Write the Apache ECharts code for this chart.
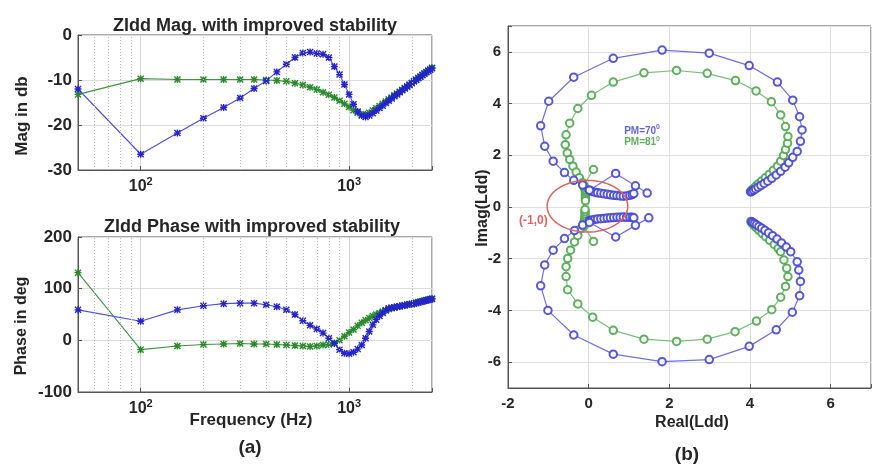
<!DOCTYPE html>
<html><head><meta charset="utf-8">
<script src="https://cdn.jsdelivr.net/npm/echarts@6/dist/echarts.min.js"></script>
<style>html,body{margin:0;padding:0;background:#fff}#c{width:874px;height:470px}</style>
</head><body><div id="c"></div><script>
// ---------- DATA ----------
const freq = [50,100,150,200,250,300,350,400,450,500,550,600,650,700,750,800,850,900,950,1000,
  1050,1100,1150,1200,1250,1300,1350,1400,1450,1500,1550,1600,1650,1700,1750,1800,1850,1900,1950,2000,
  2050,2100,2150,2200,2250,2300,2350,2400,2450,2500];
const magBlue = [-12.0,-26.5,-21.8,-18.5,-16.1,-14.0,-11.9,-10.2,-8.2,-6.5,-5.0,-4.0,-3.8,-4.1,-4.3,-5.0,-7.0,-8.8,-11.0,-13.2,
  -15.4,-17.0,-17.9,-18.2,-17.9,-17.4,-16.8,-16.2,-15.7,-15.1,-14.6,-14.1,-13.6,-13.2,-12.7,-12.3,-11.9,-11.5,-11.1,-10.7,
  -10.3,-10.0,-9.6,-9.3,-8.9,-8.6,-8.3,-8.0,-7.7,-7.4];
const magGreen = [-13.2,-9.7,-9.9,-9.9,-9.9,-9.9,-9.9,-10.0,-10.1,-10.3,-10.7,-11.1,-11.6,-12.1,-12.7,-13.3,-13.9,-14.6,-15.3,-16.0,
  -16.7,-17.3,-17.7,-17.6,-17.3,-16.8,-16.3,-15.8,-15.3,-14.8,-14.3,-13.9,-13.4,-13.0,-12.6,-12.2,-11.8,-11.4,-11.0,-10.6,
  -10.2,-9.9,-9.5,-9.2,-8.9,-8.5,-8.2,-7.9,-7.6,-7.3];
const phBlue = [59,37,59,67,71,72,72,69,65,59,50,38,29,22,14,4,-6,-18,-25,-26,
  -23,-17,-9,4,17,30,40,47,53,58,62,63,64,65,66,67,68,69,70,70,
  71,72,73,74,75,76,77,78,79,80];
const phGreen = [131,-18,-11,-8,-7,-6,-7,-7,-8,-9,-10,-11,-12,-11,-9,-8,-5,0,8,15,
  21,28,34,39,43,47,50,53,56,58,60,62,63,65,66,67,68,69,70,71,
  72,73,74,75,76,77,78,79,80,81];
const minorFreqs = [60,70,80,90,200,300,400,500,600,700,800,900,2000];
const magTicks = [-30,-20,-10,0];
const phaseTicks = [-100,0,100,200];
const reTicks = [-2,0,2,4,6];
const imTicks = [-6,-4,-2,0,2,4,6];

// Nyquist (Real, Imag)
const nyqBlueUpper = [[4.02,0.58],[4.05,0.61],[4.09,0.65],[4.14,0.70],[4.20,0.76],[4.27,0.83],[4.35,0.91],[4.44,1.00],[4.54,1.11],[4.65,1.24],[4.76,1.38],[4.87,1.54],[4.96,1.71],[5.06,1.92],[5.17,2.15],[5.25,2.54],[5.29,2.98],[5.23,3.49],[5.06,4.13],[4.68,4.83],[3.98,5.47],[2.99,5.95],[1.82,6.07],[0.61,5.75],[-0.37,5.02],[-0.99,4.09],[-1.19,3.14],[-1.09,2.35],[-0.88,1.77],[-0.60,1.33],[-0.37,1.03],[-0.15,0.85],[0.02,0.65],[0.08,0.60],[0.15,0.57],[0.22,0.55],[0.30,0.53],[0.38,0.51],[0.46,0.49],[0.54,0.47],[0.62,0.45],[0.70,0.44],[0.78,0.43],[0.86,0.42],[0.94,0.43],[1.02,0.45],[1.08,0.48],[1.12,0.52]];
const nyqBlueUpperSpur = [[0.02,0.65],[0.67,1.30],[1.16,0.82],[1.45,0.54]];
const nyqBlueLower = [[4.04,-0.57],[4.07,-0.60],[4.11,-0.64],[4.16,-0.69],[4.22,-0.75],[4.29,-0.82],[4.37,-0.90],[4.46,-1.00],[4.56,-1.11],[4.67,-1.24],[4.78,-1.39],[4.90,-1.55],[5.01,-1.73],[5.17,-2.12],[5.21,-2.44],[5.25,-2.88],[5.23,-3.43],[5.05,-4.07],[4.65,-4.75],[3.98,-5.39],[2.99,-5.90],[1.82,-5.98],[0.61,-5.69],[-0.37,-4.95],[-1.01,-4.00],[-1.19,-3.05],[-1.09,-2.24],[-0.88,-1.67],[-0.60,-1.22],[-0.35,-0.91],[-0.15,-0.70],[0.02,-0.52],[0.08,-0.50],[0.15,-0.48],[0.22,-0.46],[0.30,-0.45],[0.38,-0.44],[0.46,-0.43],[0.54,-0.42],[0.62,-0.41],[0.70,-0.40],[0.78,-0.40],[0.86,-0.39],[0.94,-0.40],[1.02,-0.40],[1.08,-0.40],[1.12,-0.42]];
const nyqBlueLowerSpur = [[0.02,-0.60],[0.67,-1.16],[1.16,-0.71],[1.49,-0.42]];
const nyqGreenUpper = [[4.01,0.60],[4.04,0.65],[4.08,0.71],[4.14,0.80],[4.21,0.90],[4.29,1.01],[4.38,1.13],[4.48,1.27],[4.58,1.42],[4.68,1.58],[4.76,1.77],[4.83,1.99],[4.88,2.22],[4.93,2.47],[4.94,2.73],[4.88,3.11],[4.76,3.56],[4.53,4.07],[4.15,4.49],[3.64,4.89],[2.94,5.17],[2.18,5.28],[1.37,5.19],[0.61,4.83],[0.07,4.32],[-0.27,3.81],[-0.47,3.24],[-0.56,2.79],[-0.58,2.41],[-0.53,2.09],[-0.47,1.84],[-0.39,1.58],[-0.31,1.35],[-0.23,1.13],[-0.15,0.94],[-0.11,0.78],[-0.09,0.68],[-0.08,0.60],[-0.08,0.52],[-0.08,0.45],[-0.08,0.38],[-0.08,0.31],[-0.08,0.24]];
const nyqGreenUpperSpur = [[-0.12,0.85],[0.12,1.45]];
const nyqGreenLower = [[4.02,-0.56],[4.05,-0.62],[4.09,-0.70],[4.15,-0.79],[4.22,-0.90],[4.30,-1.02],[4.39,-1.15],[4.49,-1.29],[4.60,-1.45],[4.70,-1.60],[4.76,-1.73],[4.84,-2.05],[4.91,-2.37],[4.94,-2.69],[4.88,-3.07],[4.76,-3.49],[4.54,-3.97],[4.16,-4.41],[3.63,-4.82],[2.94,-5.11],[2.18,-5.20],[1.37,-5.11],[0.61,-4.77],[0.10,-4.26],[-0.27,-3.75],[-0.52,-3.20],[-0.56,-2.69],[-0.56,-2.31],[-0.52,-1.99],[-0.45,-1.67],[-0.35,-1.35],[-0.27,-1.10],[-0.19,-0.84],[-0.12,-0.59],[-0.10,-0.50],[-0.09,-0.42],[-0.09,-0.34],[-0.09,-0.26],[-0.09,-0.18],[-0.09,-0.10]];
const nyqGreenLowerSpur = [[-0.12,-0.75],[0.12,-1.33]];
const unitCircle = [[-0.03, 0.03, 1.0]]; // centre re, centre im, radius
const pmLabels = [{pos:[0.88,2.94], text:'PM=70', color:'#3a3ad8'}, {pos:[0.88,2.49], text:'PM=81', color:'#3a9a3a'}];
const pointLabel = {pos:[-1.37,-0.54], text:'(-1,0)'};

// ---------- STYLE ----------
const FF = '"Liberation Sans", Arial, sans-serif';
const TXT = '#262626';
const BLUE_L = '#4e4ee0', BLUE_M = '#2424cc';
const GREEN_L = '#3f933f', GREEN_M = '#2a8a2a';
const NB_L = '#6060e0', NB_M = '#4646d6';
const NG_L = '#6db86d', NG_M = '#4fa74f';
const AST = 'path://M4,0h2v10h-2Z M0,4h10v2h-10Z M1.4,0 L10,8.6 L8.6,10 L0,1.4Z M8.6,0 L10,1.4 L1.4,10 L0,8.6Z';

const G0 = {left:78, top:35, width:354, height:135};
const G1 = {left:78, top:237, width:354, height:155};
const G2 = {left:508, top:26, width:365, height:362};

function logLabel(v){
  if (Math.abs(v-100) < 1) return '{b|10}{s|2}';
  if (Math.abs(v-1000) < 5) return '{b|10}{s|3}';
  return '';
}
const richSup = {
  b:{fontSize:16, fontWeight:'bold', fontFamily:FF, color:TXT},
  s:{fontSize:11, fontWeight:'bold', fontFamily:FF, color:TXT, padding:[0,0,10,0]}
};
const axLine = {show:true, onZero:false, lineStyle:{color:'#555'}};
function logXAxis(gi){
  return {type:'log', logBase:10, gridIndex:gi, min:50, max:2500,
    axisLine:axLine,
    axisTick:{show:true, inside:true, length:4, lineStyle:{color:'#555'}},
    axisLabel:{formatter:logLabel, rich:richSup, margin:6},
    splitLine:{show:true, lineStyle:{color:'#d4d4d4', width:1}},
    minorTick:{show:false}, minorSplitLine:{show:false}};
}
function valYAxis(gi, min, max, interval, ticks){
  return {type:'value', gridIndex:gi, min:min, max:max, interval:interval,
    axisLine:axLine,
    axisTick:{show:true, inside:true, length:4, lineStyle:{color:'#555'}},
    axisLabel:{fontSize:17, fontWeight:'bold', fontFamily:FF, color:TXT, margin:6,
      formatter: v => ticks.indexOf(v) >= 0 ? String(v) : ''},
    splitLine:{show:true, lineStyle:{color:'#dcdcdc', width:1}}};
}
function bodeSeries(gi, vals, lc, mc){
  return {type:'line', xAxisIndex:gi, yAxisIndex:gi, data: freq.map((f,i)=>[f, vals[i]]),
    symbol:AST, symbolSize:7, showAllSymbol:true, lineStyle:{color:lc, width:1.1},
    itemStyle:{color:mc}, emphasis:{disabled:true}, animation:false, z:3};
}
function minorGrid(gi){
  return {type:'line', xAxisIndex:gi, yAxisIndex:gi, data:[], silent:true, z:1,
    markLine:{silent:true, symbol:['none','none'], label:{show:false}, animation:false,
      lineStyle:{type:[1,2], color:'#b8b8b8', width:1},
      data: minorFreqs.map(f => ({xAxis:f}))}};
}
function nyq(data, lc, mc){
  return {type:'line', xAxisIndex:2, yAxisIndex:2, data:data, symbol:'emptyCircle', symbolSize:7.5,
    showAllSymbol:true, lineStyle:{color:lc, width:1.2, opacity:0.9},
    itemStyle:{color:mc, borderColor:mc, borderWidth:1.1, opacity:0.9},
    emphasis:{disabled:true}, animation:false, z:3};
}

const chart = echarts.init(document.getElementById('c'), null, {renderer:'canvas'});
const option = {
  backgroundColor:'#fff',
  animation:false,
  title:[
    {text:'Zldd Mag. with improved stability', left:250, top:12, textAlign:'center',
     textStyle:{fontSize:18, fontWeight:'bold', fontFamily:FF, color:TXT}},
    {text:'Zldd Phase with improved stability', left:247, top:213, textAlign:'center',
     textStyle:{fontSize:18, fontWeight:'bold', fontFamily:FF, color:TXT}}
  ],
  grid:[
    Object.assign({show:true, borderColor:'#555', borderWidth:1, containLabel:false}, G0),
    Object.assign({show:true, borderColor:'#555', borderWidth:1, containLabel:false}, G1),
    Object.assign({show:true, borderColor:'#555', borderWidth:1, containLabel:false}, G2)
  ],
  xAxis:[
    logXAxis(0), logXAxis(1),
    {type:'value', gridIndex:2, min:-2, max:7, interval:2,
     axisLine:axLine,
     axisTick:{show:true, inside:true, length:4, lineStyle:{color:'#555'}},
     axisLabel:{fontSize:15, fontWeight:'bold', fontFamily:FF, color:TXT, margin:8,
       formatter: v => reTicks.indexOf(v) >= 0 ? String(v) : ''},
     splitLine:{show:true, lineStyle:{color:'#e0e0e0'}}}
  ],
  yAxis:[
    valYAxis(0, -30, 0, 10, magTicks),
    valYAxis(1, -100, 200, 100, phaseTicks),
    {type:'value', gridIndex:2, min:-7, max:7, splitNumber:7,
     axisLine:axLine,
     axisTick:{show:true, inside:true, length:4, lineStyle:{color:'#555'}},
     axisLabel:{fontSize:15, fontWeight:'bold', fontFamily:FF, color:TXT, margin:7,
       formatter: v => imTicks.indexOf(v) >= 0 ? String(v) : ''},
     splitLine:{show:true, lineStyle:{color:'#e0e0e0'}}}
  ],
  series:[
    minorGrid(0), minorGrid(1),
    bodeSeries(0, magGreen, GREEN_L, GREEN_M),
    bodeSeries(0, magBlue, BLUE_L, BLUE_M),
    bodeSeries(1, phGreen, GREEN_L, GREEN_M),
    bodeSeries(1, phBlue, BLUE_L, BLUE_M),
    nyq(nyqGreenUpper, NG_L, NG_M), nyq(nyqGreenLower, NG_L, NG_M),
    nyq(nyqGreenUpperSpur, NG_L, NG_M), nyq(nyqGreenLowerSpur, NG_L, NG_M),
    nyq(nyqBlueUpper, NB_L, NB_M), nyq(nyqBlueLower, NB_L, NB_M),
    nyq(nyqBlueUpperSpur, NB_L, NB_M), nyq(nyqBlueLowerSpur, NB_L, NB_M),
    {type:'custom', xAxisIndex:2, yAxisIndex:2, data:unitCircle, silent:true, z:4,
     renderItem:function(params, api){
       const c = api.coord([api.value(0), api.value(1)]);
       const s = api.size([api.value(2), api.value(2)]);
       const pts = [];
       for (let k=0; k<=90; k++){ const a = k/90*2*Math.PI; pts.push([c[0]+s[0]*Math.cos(a), c[1]+s[1]*Math.sin(a)]); }
       return {type:'polyline', shape:{points:pts}, style:{fill:null, stroke:'#e06262', lineWidth:1.5}};
     }},
    {type:'scatter', xAxisIndex:2, yAxisIndex:2, symbolSize:0, silent:true, z:5,
     data: pmLabels.map(p => ({value:p.pos, label:{show:true, position:[0,0], align:'left', verticalAlign:'middle',
        formatter:p.text+'{s|0}', color:p.color, fontSize:10, fontWeight:'bold', fontFamily:FF,
        rich:{s:{fontSize:7, fontWeight:'bold', color:p.color, fontFamily:FF, padding:[0,0,7,0]}}}}))},
    {type:'scatter', xAxisIndex:2, yAxisIndex:2, symbolSize:0, silent:true, z:5,
     data:[{value:pointLabel.pos, label:{show:true, position:[0,0], align:'center', verticalAlign:'middle',
        formatter:pointLabel.text, color:'#d43c3c', fontSize:12, fontWeight:'bold', fontFamily:FF}}]}
  ],
  graphic:[
    {type:'text', x:22, y:116, rotation:Math.PI/2, style:{text:'Mag in db', font:'bold 17px '+FF, fill:TXT, align:'center', verticalAlign:'middle'}},
    {type:'text', x:22, y:326, rotation:Math.PI/2, style:{text:'Phase in deg', font:'bold 16px '+FF, fill:TXT, align:'center', verticalAlign:'middle'}},
    {type:'text', x:251, y:420, style:{text:'Frequency (Hz)', font:'bold 17px '+FF, fill:TXT, align:'center', verticalAlign:'middle'}},
    {type:'text', x:250, y:448, style:{text:'(a)', font:'bold 19px '+FF, fill:TXT, align:'center', verticalAlign:'middle'}},
    {type:'text', x:483, y:208, rotation:Math.PI/2, style:{text:'Imag(Ldd)', font:'bold 16px '+FF, fill:TXT, align:'center', verticalAlign:'middle'}},
    {type:'text', x:692, y:423, style:{text:'Real(Ldd)', font:'bold 16px '+FF, fill:TXT, align:'center', verticalAlign:'middle'}},
    {type:'text', x:687, y:455, style:{text:'(b)', font:'bold 19px '+FF, fill:TXT, align:'center', verticalAlign:'middle'}}
  ]
};
chart.setOption(option);
</script></body></html>
